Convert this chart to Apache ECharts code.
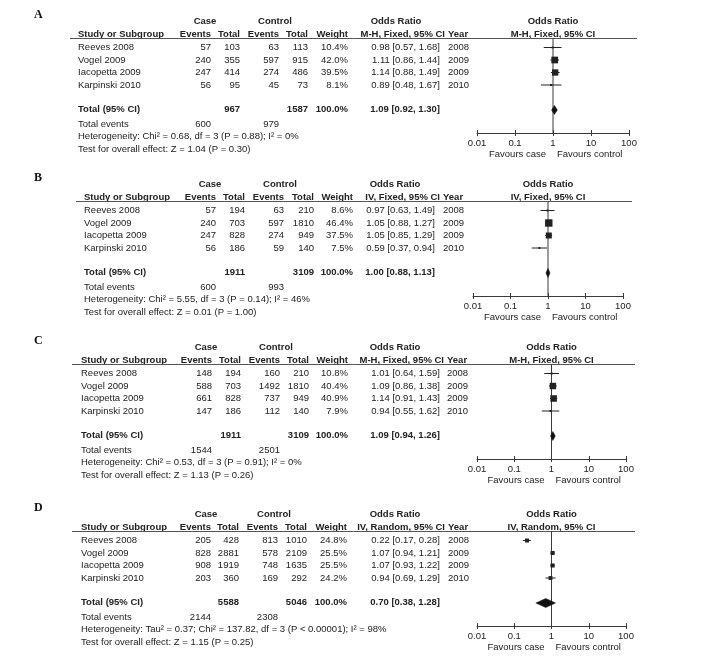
<!DOCTYPE html>
<html>
<head>
<meta charset="utf-8">
<script src="https://cdn.jsdelivr.net/npm/echarts@6/dist/echarts.min.js"></script>
<style>
html,body{margin:0;padding:0;background:#fff;}
#chart{width:708px;height:658px;}
</style>
</head>
<body>
<div id="chart"></div>
<script>
// ---------------- DATA ----------------
const panelLetters = ['A', 'B', 'C', 'D'];
const studies = ['Reeves 2008', 'Vogel 2009', 'Iacopetta 2009', 'Karpinski 2010'];
const years = ['2008', '2009', '2009', '2010'];
const methods = ['M-H, Fixed, 95% CI', 'IV, Fixed, 95% CI', 'M-H, Fixed, 95% CI', 'IV, Random, 95% CI'];

const caseEventsA = [57, 240, 247, 56];
const caseTotalA = [103, 355, 414, 95];
const ctrlEventsA = [63, 597, 274, 45];
const ctrlTotalA = [113, 915, 486, 73];
const weightA = [10.4, 42.0, 39.5, 8.1];
const orA = [0.98, 1.11, 1.14, 0.89];
const loA = [0.57, 0.86, 0.88, 0.48];
const hiA = [1.68, 1.44, 1.49, 1.67];

const caseEventsB = [57, 240, 247, 56];
const caseTotalB = [194, 703, 828, 186];
const ctrlEventsB = [63, 597, 274, 59];
const ctrlTotalB = [210, 1810, 949, 140];
const weightB = [8.6, 46.4, 37.5, 7.5];
const orB = [0.97, 1.05, 1.05, 0.59];
const loB = [0.63, 0.88, 0.85, 0.37];
const hiB = [1.49, 1.27, 1.29, 0.94];

const caseEventsC = [148, 588, 661, 147];
const caseTotalC = [194, 703, 828, 186];
const ctrlEventsC = [160, 1492, 737, 112];
const ctrlTotalC = [210, 1810, 949, 140];
const weightC = [10.8, 40.4, 40.9, 7.9];
const orC = [1.01, 1.09, 1.14, 0.94];
const loC = [0.64, 0.86, 0.91, 0.55];
const hiC = [1.59, 1.38, 1.43, 1.62];

const caseEventsD = [205, 828, 908, 203];
const caseTotalD = [428, 2881, 1919, 360];
const ctrlEventsD = [813, 578, 748, 169];
const ctrlTotalD = [1010, 2109, 1635, 292];
const weightD = [24.8, 25.5, 25.5, 24.2];
const orD = [0.22, 1.07, 1.07, 0.94];
const loD = [0.17, 0.94, 0.93, 0.69];
const hiD = [0.28, 1.21, 1.22, 1.29];

const totalOR = [1.09, 1.00, 1.09, 0.70];
const totalLo = [0.92, 0.88, 0.94, 0.38];
const totalHi = [1.30, 1.13, 1.26, 1.28];
const caseTotalSum = [967, 1911, 1911, 5588];
const ctrlTotalSum = [1587, 3109, 3109, 5046];
const caseEventsSum = [600, 600, 1544, 2144];
const ctrlEventsSum = [979, 993, 2501, 2308];
const heterogeneity = [
  'Heterogeneity: Chi² = 0.68, df = 3 (P = 0.88); I² = 0%',
  'Heterogeneity: Chi² = 5.55, df = 3 (P = 0.14); I² = 46%',
  'Heterogeneity: Chi² = 0.53, df = 3 (P = 0.91); I² = 0%',
  'Heterogeneity: Tau² = 0.37; Chi² = 137.82, df = 3 (P < 0.00001); I² = 98%'
];
const overallTest = [
  'Test for overall effect: Z = 1.04 (P = 0.30)',
  'Test for overall effect: Z = 0.01 (P = 1.00)',
  'Test for overall effect: Z = 1.13 (P = 0.26)',
  'Test for overall effect: Z = 1.15 (P = 0.25)'
];
const tickValues = [0.01, 0.1, 1, 10, 100];
const tickLabels = ['0.01', '0.1', '1', '10', '100'];

const panels = [
  {ce: caseEventsA, ct: caseTotalA, oe: ctrlEventsA, ot: ctrlTotalA, w: weightA, or: orA, lo: loA, hi: hiA},
  {ce: caseEventsB, ct: caseTotalB, oe: ctrlEventsB, ot: ctrlTotalB, w: weightB, or: orB, lo: loB, hi: hiB},
  {ce: caseEventsC, ct: caseTotalC, oe: ctrlEventsC, ot: ctrlTotalC, w: weightC, or: orC, lo: loC, hi: hiC},
  {ce: caseEventsD, ct: caseTotalD, oe: ctrlEventsD, ot: ctrlTotalD, w: weightD, or: orD, lo: loD, hi: hiD}
];

// ---------------- LAYOUT ----------------
const layout = [
  {L: 38,  lx0: 70, lx1: 637, study: 78, ce: 211, ct: 240, oe: 279, ot: 308, w: 348, orR: 440, yr: 448, orH1: 396, caseH: 205, ctrlH: 275, ax0: 477, ax1: 629},
  {L: 201, lx0: 76, lx1: 632, study: 84, ce: 216, ct: 245, oe: 284, ot: 314, w: 353, orR: 435, yr: 443, orH1: 395, caseH: 210, ctrlH: 280, ax0: 473, ax1: 623},
  {L: 364, lx0: 72, lx1: 635, study: 81, ce: 212, ct: 241, oe: 280, ot: 309, w: 348, orR: 440, yr: 447, orH1: 395, caseH: 206, ctrlH: 276, ax0: 477, ax1: 626},
  {L: 531, lx0: 72, lx1: 635, study: 81, ce: 211, ct: 239, oe: 278, ot: 307, w: 347, orR: 440, yr: 448, orH1: 395, caseH: 206, ctrlH: 274, ax0: 477, ax1: 626}
];
const ROW0 = 9.5, ROWH = 12.5, TOTAL_IDX = 5, GRID_H = 95;
const Y_MIN = -ROW0 / ROWH, Y_MAX = (GRID_H - ROW0) / ROWH;
const FONT = '9.5px "Liberation Sans", Arial, sans-serif';
const BFONT = 'bold 9.5px "Liberation Sans", Arial, sans-serif';
const TXT = '#222';
const LINE = '#3a3a3a';

const fmt = (v) => v.toFixed(2);

const graphics = [];
function txt(text, x, y, align, bold, extra) {
  graphics.push({
    type: 'text', silent: true,
    style: Object.assign({text: String(text), x: x, y: y, align: align, verticalAlign: 'middle',
      font: bold ? BFONT : FONT, fill: TXT}, extra || {})
  });
}

const grids = [], xAxes = [], yAxes = [], series = [];

panels.forEach((p, k) => {
  const g = layout[k];
  const L = g.L;
  const rowY = (i) => L + ROW0 + ROWH * i;

  // panel letter
  txt(panelLetters[k], 34, L - 23, 'left', false, {font: 'bold 12px "Liberation Serif", "Times New Roman", serif', fill: '#111'});
  // header row 1
  txt('Case', g.caseH, L - 17, 'center', true);
  txt('Control', g.ctrlH, L - 17, 'center', true);
  txt('Odds Ratio', g.orH1, L - 17, 'center', true);
  txt('Odds Ratio', (g.ax0 + g.ax1) / 2, L - 17, 'center', true);
  // header row 2
  const h2 = L - 4;
  txt('Study or Subgroup', g.study, h2, 'left', true);
  txt('Events', g.ce, h2, 'right', true);
  txt('Total', g.ct, h2, 'right', true);
  txt('Events', g.oe, h2, 'right', true);
  txt('Total', g.ot, h2, 'right', true);
  txt('Weight', g.w, h2, 'right', true);
  txt(methods[k], g.yr - 3, h2, 'right', true);
  txt('Year', g.yr, h2, 'left', true);
  txt(methods[k], (g.ax0 + g.ax1) / 2, h2, 'center', true);
  // header rule
  graphics.push({type: 'line', silent: true, shape: {x1: g.lx0, y1: L + 0.5, x2: g.lx1, y2: L + 0.5},
    style: {stroke: '#555', lineWidth: 1}});

  // study rows
  studies.forEach((s, i) => {
    const y = rowY(i);
    txt(s, g.study, y, 'left');
    txt(p.ce[i], g.ce, y, 'right');
    txt(p.ct[i], g.ct, y, 'right');
    txt(p.oe[i], g.oe, y, 'right');
    txt(p.ot[i], g.ot, y, 'right');
    txt(p.w[i].toFixed(1) + '%', g.w, y, 'right');
    txt(fmt(p.or[i]) + ' [' + fmt(p.lo[i]) + ', ' + fmt(p.hi[i]) + ']', g.orR, y, 'right');
    txt(years[i], g.yr, y, 'left');
  });
  // total row
  const ty = rowY(TOTAL_IDX) - 0.5;
  txt('Total (95% CI)', g.study, ty, 'left', true);
  txt(caseTotalSum[k], g.ct, ty, 'right', true);
  txt(ctrlTotalSum[k], g.ot, ty, 'right', true);
  txt('100.0%', g.w, ty, 'right', true);
  txt(fmt(totalOR[k]) + ' [' + fmt(totalLo[k]) + ', ' + fmt(totalHi[k]) + ']', g.orR, ty, 'right', true);
  // footer
  txt('Total events', g.study, L + 86, 'left');
  txt(caseEventsSum[k], g.ce, L + 86, 'right');
  txt(ctrlEventsSum[k], g.oe, L + 86, 'right');
  txt(heterogeneity[k], g.study, L + 98.5, 'left');
  txt(overallTest[k], g.study, L + 111, 'left');

  // favours labels
  const one = g.ax0 + (g.ax1 - g.ax0) / 2;
  txt('Favours case', one - 7, L + 116, 'right');
  txt('Favours control', one + 4, L + 116, 'left');

  // grid + axes
  grids.push({left: g.ax0, width: g.ax1 - g.ax0, top: L, height: GRID_H, containLabel: false});
  const baseX = {
    type: 'log', logBase: 10, min: 0.01, max: 100, gridIndex: k, position: 'bottom',
    splitLine: {show: false}, splitNumber: 4
  };
  xAxes.push(Object.assign({}, baseX, {
    axisLine: {show: true, onZero: false, lineStyle: {color: LINE, width: 1}},
    axisTick: {show: true, inside: true, length: 3, lineStyle: {color: LINE}},
    axisLabel: {
      show: true, margin: 5, color: TXT, fontSize: 9.5, fontFamily: '"Liberation Sans", Arial, sans-serif',
      formatter: (v) => {
        const idx = tickValues.findIndex(t => Math.abs(Math.log10(t) - Math.log10(v)) < 1e-6);
        return idx >= 0 ? tickLabels[idx] : '';
      }
    }
  }));
  xAxes.push(Object.assign({}, baseX, {
    axisLine: {show: false, onZero: false},
    axisTick: {show: true, inside: false, length: 3, lineStyle: {color: LINE}},
    axisLabel: {show: false}
  }));
  yAxes.push({type: 'value', gridIndex: k, inverse: true, min: Y_MIN, max: Y_MAX, show: false});

  // line of no effect
  series.push({
    type: 'line', xAxisIndex: 2 * k, yAxisIndex: k, symbol: 'none', silent: true,
    data: [[1, Y_MIN], [1, Y_MAX]],
    lineStyle: {color: LINE, width: 1}, z: 1
  });

  // forest marks
  const data = studies.map((s, i) => [p.or[i], i, p.lo[i], p.hi[i], p.w[i], 0]);
  data.push([totalOR[k], TOTAL_IDX, totalLo[k], totalHi[k], 100, 1]);
  series.push({
    type: 'custom', xAxisIndex: 2 * k, yAxisIndex: k, silent: true, clip: false, z: 3,
    encode: {x: [0, 2, 3], y: 1},
    data: data,
    renderItem: (params, api) => {
      const or = api.value(0), y = api.value(1), lo = api.value(2), hi = api.value(3), w = api.value(4), tot = api.value(5);
      const pOr = api.coord([or, y]);
      const pLo = api.coord([lo, y]);
      const pHi = api.coord([hi, y]);
      if (tot) {
        const hh = 4.5;
        return {
          type: 'polygon',
          shape: {points: [[pLo[0], pOr[1]], [pOr[0], pOr[1] - hh], [pHi[0], pOr[1]], [pOr[0], pOr[1] + hh]]},
          style: {fill: '#111', stroke: '#111', lineWidth: 0.5}
        };
      }
      const s = Math.max(2, w * 0.16);
      return {
        type: 'group',
        children: [
          {type: 'line', shape: {x1: pLo[0], y1: pOr[1], x2: pHi[0], y2: pOr[1]}, style: {stroke: '#222', lineWidth: 1}},
          {type: 'rect', shape: {x: pOr[0] - s / 2, y: pOr[1] - s / 2, width: s, height: s}, style: {fill: '#222'}}
        ]
      };
    }
  });
});

const chart = echarts.init(document.getElementById('chart'), null, {renderer: 'canvas'});
chart.setOption({
  animation: false,
  backgroundColor: '#fff',
  grid: grids,
  xAxis: xAxes,
  yAxis: yAxes,
  series: series,
  graphic: graphics
});
</script>
</body>
</html>
